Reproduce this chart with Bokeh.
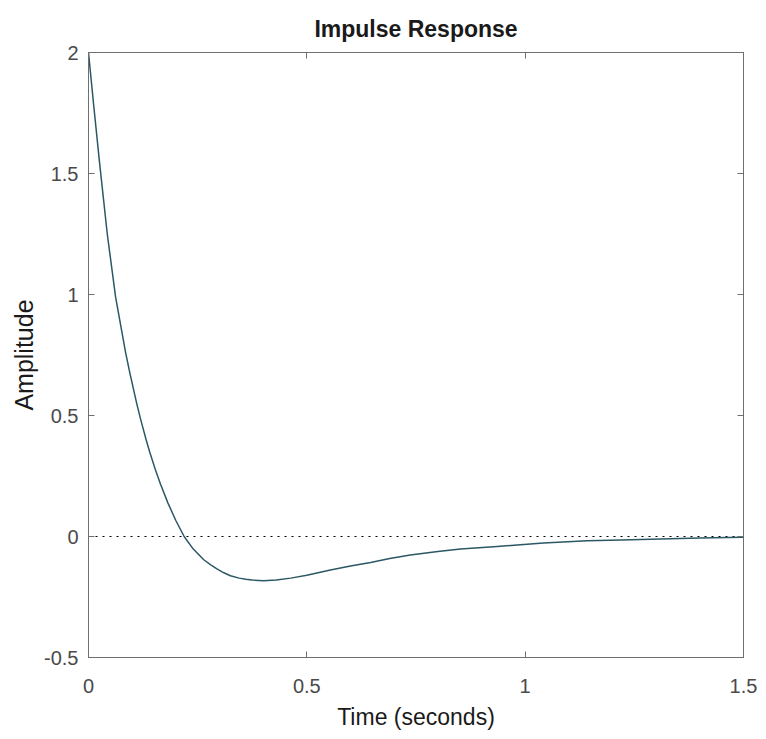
from bokeh.plotting import figure
from bokeh.models import Range1d, LinearAxis, FixedTicker, CustomJSTickFormatter
from bokeh.embed import file_html
from bokeh.resources import INLINE

# Impulse response
time_s = [0.0, 0.006, 0.012, 0.025, 0.043, 0.062, 0.085, 0.095, 0.111, 0.120,
          0.132, 0.140, 0.153, 0.165, 0.182, 0.200, 0.219, 0.240, 0.264, 0.280,
          0.295, 0.310, 0.325, 0.345, 0.360, 0.375, 0.401, 0.430, 0.463, 0.500,
          0.554, 0.600, 0.646, 0.690, 0.737, 0.800, 0.852, 0.928, 0.982, 1.042,
          1.142, 1.220, 1.310, 1.400, 1.463, 1.500]
amplitude = [2.0, 1.89, 1.78, 1.55, 1.25, 0.99, 0.76, 0.673, 0.545, 0.48,
             0.40, 0.35, 0.277, 0.216, 0.138, 0.066, 0.0, -0.052, -0.096, -0.117,
             -0.135, -0.150, -0.162, -0.172, -0.177, -0.180, -0.183, -0.180, -0.172, -0.160,
             -0.138, -0.122, -0.107, -0.091, -0.076, -0.062, -0.052, -0.042, -0.035, -0.027,
             -0.018, -0.014, -0.010, -0.006, -0.004, -0.003]

x_ticks = [0, 0.5, 1, 1.5]
y_ticks = [-0.5, 0, 0.5, 1, 1.5, 2]
x_tick_labels = {0: "0", 0.5: "0.5", 1: "1", 1.5: "1.5"}
y_tick_labels = {-0.5: "-0.5", 0: "0", 0.5: "0.5", 1: "1", 1.5: "1.5", 2: "2"}

FONT = "Liberation Sans"
BOX = "#6f6f6f"
TICKTXT = "#4a4a4a"

p = figure(width=766, height=739, output_backend="svg", toolbar_location=None,
           x_range=Range1d(0, 1.5), y_range=Range1d(-0.5, 2),
           min_border_left=88, min_border_right=23, min_border_top=52, min_border_bottom=82,
           x_axis_label="Time (seconds)", y_axis_label="Amplitude")

p.title.text = "Impulse Response"
p.title.align = "center"
p.title.text_font = FONT
p.title.text_font_size = "23px"
p.title.text_font_style = "bold"
p.title.text_color = "#1a1a1a"
p.title.offset = 0
p.title.standoff = 22

p.grid.visible = False
p.outline_line_color = BOX
p.background_fill_color = "white"
p.border_fill_color = "white"

for ax, ticks, labels in ((p.xaxis[0], x_ticks, x_tick_labels), (p.yaxis[0], y_ticks, y_tick_labels)):
    ax.ticker = FixedTicker(ticks=ticks)
    ax.major_label_overrides = labels
    ax.minor_tick_line_color = None
    ax.major_tick_in = 6
    ax.major_tick_out = 0
    ax.major_tick_line_color = BOX
    ax.axis_line_color = BOX
    ax.major_label_text_font = FONT
    ax.major_label_text_font_size = "20px"
    ax.major_label_text_color = TICKTXT
    ax.axis_label_text_font = FONT
    ax.axis_label_text_font_style = "normal"
    ax.axis_label_text_color = "#1a1a1a"

p.xaxis[0].major_label_standoff = 21
p.xaxis[0].axis_label_text_font_size = "23px"
p.xaxis[0].axis_label_standoff = 8
p.yaxis[0].major_label_standoff = 10
p.yaxis[0].axis_label_text_font_size = "25px"
p.yaxis[0].axis_label_standoff = 3

blank = CustomJSTickFormatter(code="return '';")
top_ax = LinearAxis(ticker=FixedTicker(ticks=x_ticks), formatter=blank)
right_ax = LinearAxis(ticker=FixedTicker(ticks=y_ticks), formatter=blank)
for ax in (top_ax, right_ax):
    ax.minor_tick_line_color = None
    ax.major_tick_in = 6
    ax.major_tick_out = 0
    ax.major_tick_line_color = BOX
    ax.axis_line_color = BOX
    ax.major_label_standoff = 0
p.add_layout(top_ax, "above")
p.add_layout(right_ax, "right")

p.line(x=[0, 1.5], y=[0, 0], line_color="black", line_width=1.2, line_dash="2 5")
p.line(x=time_s, y=amplitude, line_color="#2b5864", line_width=1.5)

open("out.html", "w").write(file_html(p, INLINE))
